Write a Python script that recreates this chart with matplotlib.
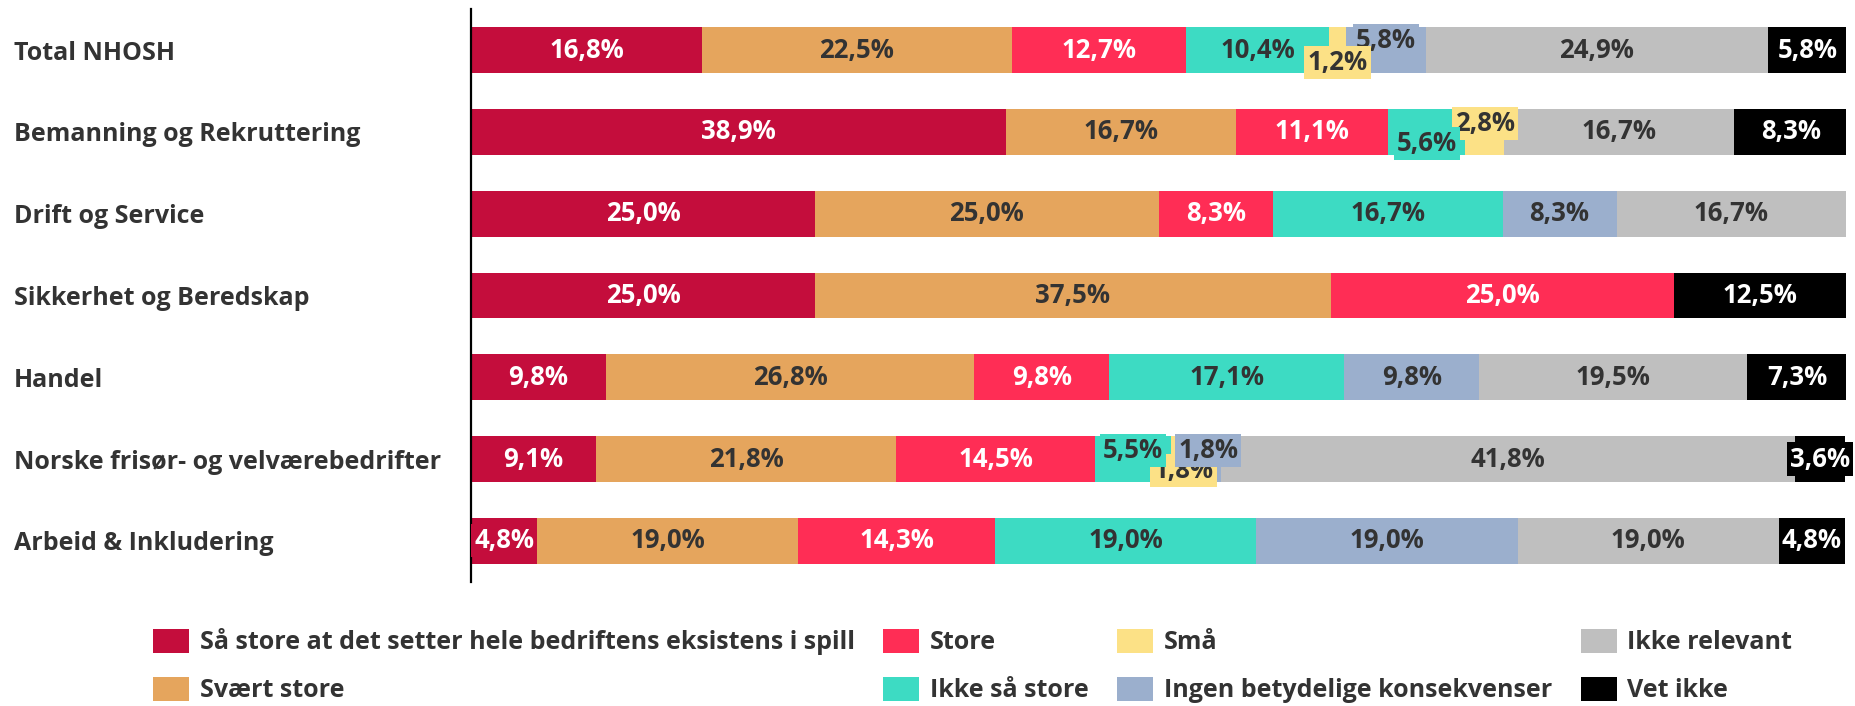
import matplotlib
matplotlib.use("Agg")
import matplotlib.pyplot as plt
import numpy as np

plt.rcParams['font.family'] = ['Open Sans', 'DejaVu Sans']
plt.rcParams['font.weight'] = 'bold'

# data
categories = ['Total NHOSH', 'Bemanning og Rekruttering', 'Drift og Service',
              'Sikkerhet og Beredskap', 'Handel', 'Norske frisør- og velværebedrifter',
              'Arbeid & Inkludering']
series = ['Så store at det setter hele bedriftens eksistens i spill', 'Svært store',
          'Store', 'Ikke så store', 'Små', 'Ingen betydelige konsekvenser',
          'Ikke relevant', 'Vet ikke']
so_store = [16.8, 38.9, 25.0, 25.0, 9.8, 9.1, 4.8]
svaert_store = [22.5, 16.7, 25.0, 37.5, 26.8, 21.8, 19.0]
store = [12.7, 11.1, 8.3, 25.0, 9.8, 14.5, 14.3]
ikke_saa_store = [10.4, 5.6, 16.7, 0, 17.1, 5.5, 19.0]
smaa = [1.2, 2.8, 0, 0, 0, 1.8, 0]
ingen_bet = [5.8, 0, 8.3, 0, 9.8, 1.8, 19.0]
ikke_relevant = [24.9, 16.7, 16.7, 0, 19.5, 41.8, 19.0]
vet_ikke = [5.8, 8.3, 0, 12.5, 7.3, 3.6, 4.8]

values = [so_store, svaert_store, store, ikke_saa_store, smaa, ingen_bet,
          ikke_relevant, vet_ikke]
colors = ['#C40D3C', '#E5A55D', '#FF2D55', '#3DDBC3', '#FCE186', '#9BAFCD',
          '#BFBFBF', '#000000']
text_colors = ['white', '#333333', 'white', '#333333', '#333333', '#333333',
               '#333333', 'white']

# vertical nudges for small, crowded labels (series index, row index) -> (offset in rows, zorder)
nudges = {(4, 0): (0.15, 5), (5, 0): (-0.12, 4),
          (3, 1): (0.14, 5), (4, 1): (-0.1, 4),
          (3, 5): (-0.1, 5), (4, 5): (0.14, 4), (5, 5): (-0.1, 5)}

fig = plt.figure(figsize=(18.56, 7.06), dpi=100)
ax = fig.add_axes([0.2538, 0.176, 0.741, 0.811])

y = np.arange(len(categories))
left = np.zeros(len(categories))
for i, (name, vals) in enumerate(zip(series, values)):
    vals = np.array(vals, dtype=float)
    ax.barh(y, vals, left=left, height=0.56, color=colors[i], label=name,
            edgecolor='none')
    for j, v in enumerate(vals):
        if v <= 0:
            continue
        dy, z = nudges.get((i, j), (0, 3))
        ax.text(left[j] + v / 2, y[j] + dy,
                f'{v:.1f}%'.replace('.', ','),
                ha='center', va='center', fontsize=18.5, fontweight='bold',
                color=text_colors[i], zorder=z,
                bbox=dict(boxstyle='square,pad=0.12', fc=colors[i], ec='none'))
    left += vals

ax.set_xlim(0, 100)
ax.set_ylim(len(categories) - 0.5, -0.5)
ax.set_yticks(y)
ax.set_yticklabels(categories, ha='left', fontsize=18, fontweight='bold', color='#333333')
ax.tick_params(axis='y', length=0, pad=329)
ax.set_xticks([])
for s in ['top', 'right', 'bottom']:
    ax.spines[s].set_visible(False)
ax.spines['left'].set_linewidth(1.6)
ax.spines['left'].set_color('black')

leg = fig.legend(loc='upper left', bbox_to_anchor=(0.0825, 0.11), ncol=4,
                 frameon=False, fontsize=18, handlelength=1.44, handleheight=1.1,
                 handletextpad=0.42, columnspacing=1.15, labelspacing=0.85,
                 borderpad=0, borderaxespad=0)
for t in leg.get_texts():
    t.set_color('#333333')
    t.set_fontweight('bold')

fig.savefig('out.png', dpi=100)
